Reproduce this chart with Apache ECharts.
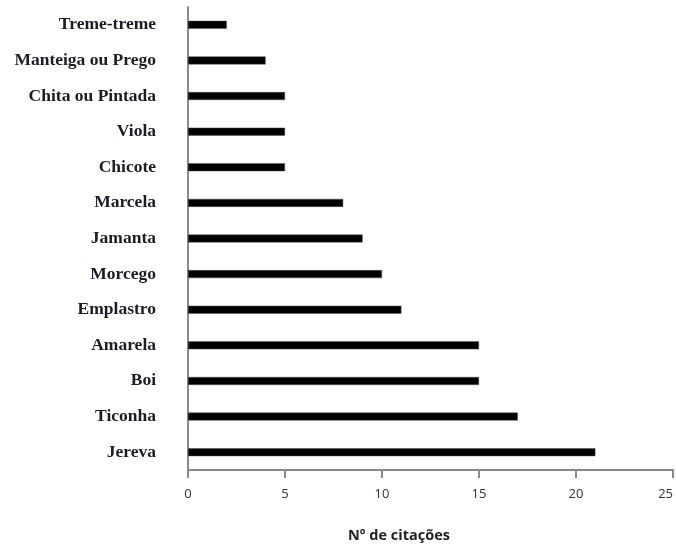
<!DOCTYPE html>
<html>
<head>
<meta charset="utf-8">
<script src="https://cdn.jsdelivr.net/npm/echarts@6/dist/echarts.min.js"></script>
<style>html,body{margin:0;padding:0;background:#fff}#c{width:676px;height:545px}</style>
</head>
<body>
<div id="c"></div>
<script>
const categories = ["Treme-treme","Manteiga ou Prego","Chita ou Pintada","Viola","Chicote","Marcela","Jamanta","Morcego","Emplastro","Amarela","Boi","Ticonha","Jereva"];
const citations = [2,4,5,5,5,8,9,10,11,15,15,17,21];
const xTicks = [0,5,10,15,20,25];
const xTitle = "Nº de citações";

const chart = echarts.init(document.getElementById('c'), null, {renderer:'canvas'});
chart.setOption({
  animation:false,
  backgroundColor:'#fff',
  title:{
    text:xTitle, left:394, top:523, textAlign:'center',
    textStyle:{fontFamily:'Open Sans', fontWeight:'bold', fontSize:14.5, color:'#222'}
  },
  grid:{left:188, right:1, top:7, bottom:75, containLabel:false},
  xAxis:{
    type:'value', min:xTicks[0], max:xTicks[xTicks.length-1], interval:5,
    axisLine:{show:true, lineStyle:{color:'#8a8a8a', width:2}},
    axisTick:{show:true, length:8, lineStyle:{color:'#8a8a8a', width:2}},
    splitLine:{show:false},
    axisLabel:{margin:18, fontFamily:'Open Sans', fontSize:13, color:'#333', alignMaxLabel:'right'}
  },
  yAxis:{
    type:'category', data:categories, inverse:true,
    axisLine:{show:true, lineStyle:{color:'#8a8a8a', width:2}},
    axisTick:{show:false},
    axisLabel:{margin:32, fontFamily:'Liberation Serif', fontWeight:'bold', fontSize:17.5, color:'#1c1c24', padding:[0,0,8,0]}
  },
  series:[{
    type:'bar', data:citations, barWidth:8,
    itemStyle:{color:'#000', borderColor:'#555', borderWidth:0.5}
  }]
});
</script>
</body>
</html>
